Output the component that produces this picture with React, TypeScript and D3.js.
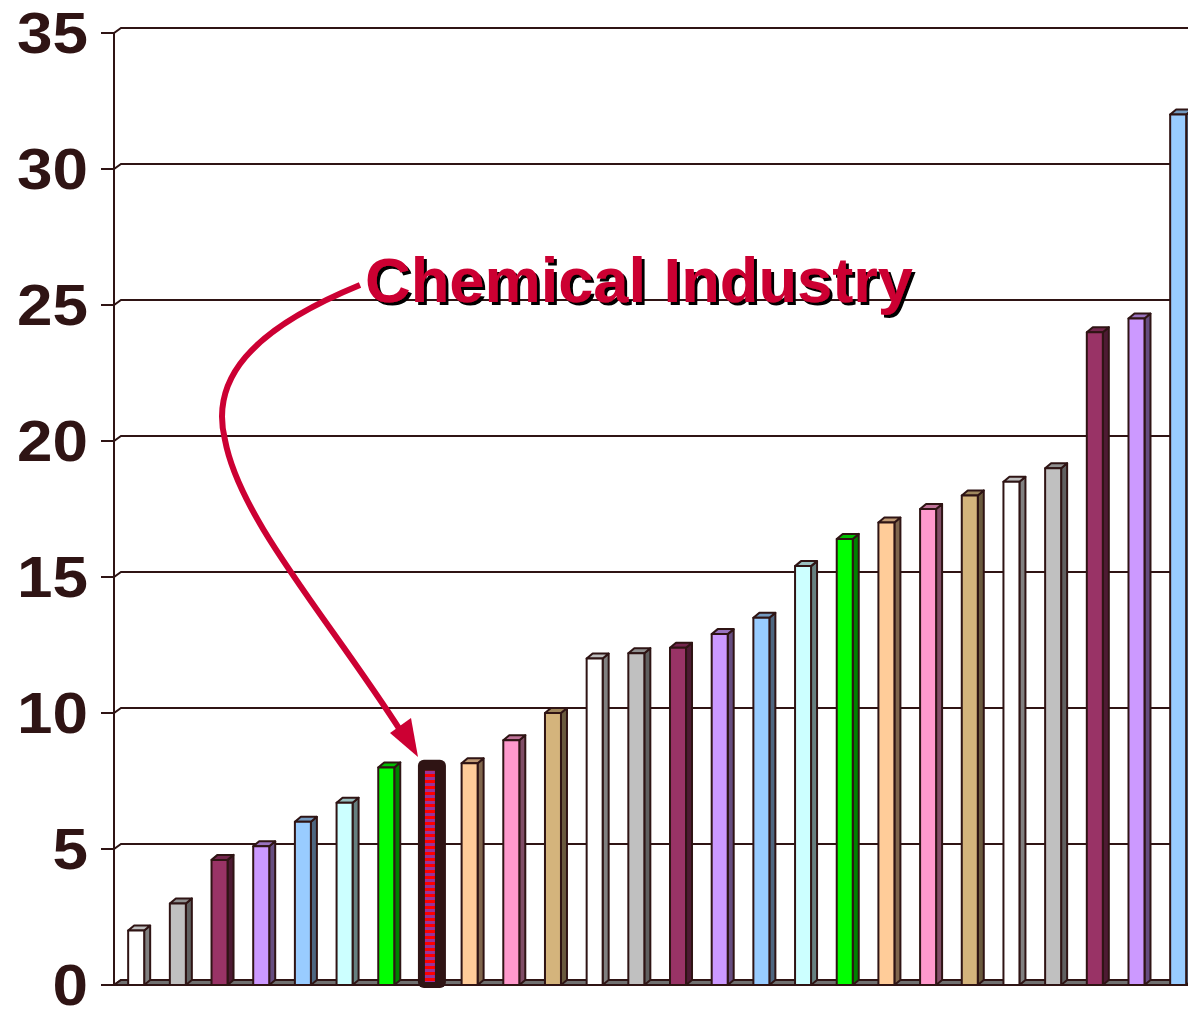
import React from "react";
import * as d3 from "d3";

// Sectors, ordered by value; index 7 is the chemical industry
const sectors = [
  "S1", "S2", "S3", "S4", "S5", "S6", "S7", "Chemical Industry", "S9", "S10",
  "S11", "S12", "S13", "S14", "S15", "S16", "S17", "S18", "S19", "S20",
  "S21", "S22", "S23", "S24", "S25", "S26",
];
const values = [
  2.0, 3.0, 4.6, 5.1, 6.0, 6.7, 8.0, 8.1, 8.15, 9.0,
  10.0, 12.0, 12.2, 12.4, 12.9, 13.5, 15.4, 16.4, 17.0, 17.5,
  18.0, 18.5, 19.0, 24.0, 24.5, 32.0,
];
const barColors = [
  "#ffffff", "#c0c0c0", "#993366", "#cc99ff", "#99ccff", "#ccffff", "#00ff00", "#2f1414", "#ffcc99", "#ff99cc",
  "#d4b47c", "#ffffff", "#c0c0c0", "#993366", "#cc99ff", "#99ccff", "#ccffff", "#00ff00", "#ffcc99", "#ff99cc",
  "#d4b47c", "#ffffff", "#c0c0c0", "#993366", "#cc99ff", "#99ccff",
];
const yTicks = [0, 5, 10, 15, 20, 25, 30, 35];
const highlightIndex = 7;
const annotation = "Chemical Industry";

const W = 1188;
const H = 1010;
const INK = "#2f1414";
const RED = "#cc0033";
const DX = 7; // depth offset of the 3D walls
const DY = 5;

export default function App() {
  const axisX = 114;
  const y = d3.scaleLinear().domain([0, 35]).range([985, 33]);
  const x = d3
    .scaleBand<string>()
    .domain(sectors)
    .range([axisX, axisX + 26 * 41.68])
    .padding(0);
  const bw = x.bandwidth();
  const frontW = 16;
  const sideW = 6;

  const shade = (c: string, k: number) => {
    const col = d3.rgb(c);
    return d3.rgb(col.r * k, col.g * k, col.b * k).formatHex();
  };

  const arrowPath =
    "M360,285 C250,330 210,380 225,440 C240,520 330,620 402,733";

  return (
    <svg
      width={W}
      height={H}
      style={{ position: "absolute", left: 0, top: 0, background: "#fff" }}
      fontFamily="Liberation Sans, Arial, sans-serif"
    >
      <defs>
        <pattern id="stripes" width="6" height="6" patternUnits="userSpaceOnUse">
          <rect width="6" height="3" fill="#ff0000" />
          <rect y="3" width="6" height="3" fill="#993399" />
        </pattern>
        <filter id="shadow" x="-5%" y="-20%" width="110%" height="140%">
          <feDropShadow dx="3" dy="3" stdDeviation="0" floodColor="#000" floodOpacity="1" />
        </filter>
      </defs>

      {/* back-wall gridlines with tick stubs */}
      {yTicks.map((t) => (
        <g key={t}>
          <path
            d={`M${axisX - 13},${y(t)} L${axisX},${y(t)} L${axisX + DX},${y(t) - DY} L${W},${y(t) - DY}`}
            fill="none"
            stroke={INK}
            strokeWidth={2}
          />
          <text
            transform={`translate(88,${y(t) + 20}) scale(1.12,1)`}
            textAnchor="end"
            fontSize={57}
            fontWeight="bold"
            fill={INK}
          >
            {t}
          </text>
        </g>
      ))}

      {/* floor */}
      <polygon
        points={`${axisX},${y(0)} ${W + 10},${y(0)} ${W + 10 + DX},${y(0) - DY} ${axisX + DX},${y(0) - DY}`}
        fill="#707070"
        stroke={INK}
        strokeWidth={2}
      />
      <line x1={axisX} x2={axisX} y1={y(35)} y2={y(0)} stroke={INK} strokeWidth={2} />

      {/* bars */}
      {sectors.map((s, i) => {
        const x0 = (x(s) as number) + bw * 0.34;
        const top = y(values[i]);
        const base = y(0);
        const col = barColors[i];
        if (i === highlightIndex) {
          return (
            <g key={s}>
              <rect
                x={x0 - 2}
                y={top - 5}
                width={28}
                height={base - top + 8}
                rx={6}
                fill={INK}
              />
              <rect
                x={x0 + 5}
                y={top + 6}
                width={10}
                height={base - top - 9}
                fill="url(#stripes)"
              />
            </g>
          );
        }
        return (
          <g key={s} stroke={INK} strokeWidth={2} strokeLinejoin="round">
            <polygon
              points={`${x0 + frontW},${base} ${x0 + frontW},${top} ${x0 + frontW + sideW},${top - DY} ${x0 + frontW + sideW},${base - DY}`}
              fill={shade(col, 0.5)}
            />
            <polygon
              points={`${x0},${top} ${x0 + frontW},${top} ${x0 + frontW + sideW},${top - DY} ${x0 + sideW},${top - DY}`}
              fill={shade(col, 0.75)}
            />
            <rect x={x0} y={top} width={frontW} height={base - top} fill={col} />
          </g>
        );
      })}

      {/* annotation arrow */}
      <path d={arrowPath} fill="none" stroke={RED} strokeWidth={6} strokeLinecap="butt" />
      <polygon points="418,757 390,733 411,718" fill={RED} />

      {/* annotation label with drop shadow */}
      <text
        x={365}
        y={302}
        fontSize={63}
        fontWeight="bold"
        fill={RED}
        textLength={548}
        lengthAdjust="spacingAndGlyphs"
        filter="url(#shadow)"
      >
        {annotation}
      </text>
    </svg>
  );
}
